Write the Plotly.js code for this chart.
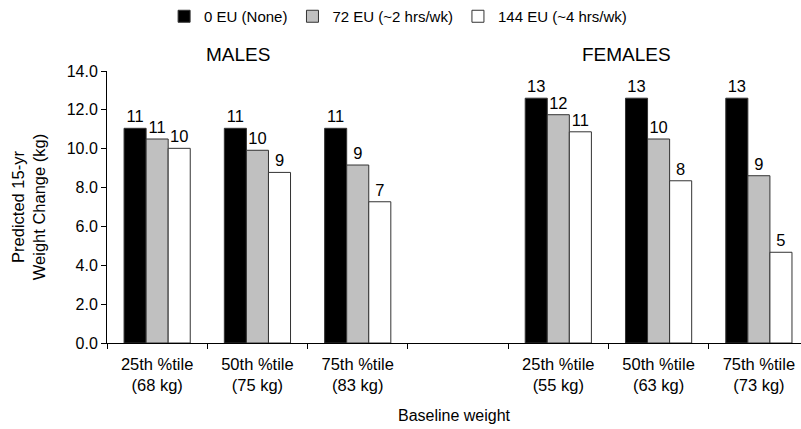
<!DOCTYPE html>
<html>
<head>
<meta charset="utf-8">
<script src="https://cdn.plot.ly/plotly-3.0.1.min.js"></script>
<style>html,body{margin:0;padding:0;background:#fff;}#chart{width:801px;height:429px;}</style>
</head>
<body>
<div id="chart"></div>
<script>
// Categories (index 3 is an empty spacer slot between males and females)
const categories = ["M25", "M50", "M75", "GAP", "F25", "F50", "F75"];
const tickLabels = ["25th %tile<br>(68 kg)", "50th %tile<br>(75 kg)", "75th %tile<br>(83 kg)", "",
                    "25th %tile<br>(55 kg)", "50th %tile<br>(63 kg)", "75th %tile<br>(73 kg)"];
const seriesNames = ["0 EU (None)", "72 EU (~2 hrs/wk)", "144 EU (~4 hrs/wk)"];
const eu0   = [11.05, 11.05, 11.05, null, 12.6, 12.6, 12.6];
const eu72  = [10.5, 9.92, 9.16, null, 11.75, 10.5, 8.61];
const eu144 = [10.02, 8.78, 7.27, null, 10.87, 8.35, 4.67];
const lab0   = ["11", "11", "11", "", "13", "13", "13"];
const lab72  = ["11", "10", "9", "", "12", "10", "9"];
const lab144 = ["10", "9", "7", "", "11", "8", "5"];
const colors = ["#000000", "#c0c0c0", "#ffffff"];

const font = "Liberation Sans, Arial, sans-serif";
function bar(name, y, text, color) {
  return {
    type: "bar", name: name, x: categories, y: y, text: text,
    textposition: "outside", cliponaxis: false,
    textfont: {family: font, size: 16.5, color: "#000"},
    marker: {color: color, line: {color: "#333", width: 1}},
    hoverinfo: "skip"
  };
}
const data = [
  bar(seriesNames[0], eu0, lab0, colors[0]),
  bar(seriesNames[1], eu72, lab72, colors[1]),
  bar(seriesNames[2], eu144, lab144, colors[2])
];

const layout = {
  width: 801, height: 429,
  margin: {l: 107, r: 0, t: 71, b: 86},
  paper_bgcolor: "#fff", plot_bgcolor: "#fff",
  font: {family: font, size: 16, color: "#000"},
  barmode: "group", bargap: 0.34, bargroupgap: 0,
  showlegend: true,
  legend: {orientation: "h", x: 0.497, xref: "container", xanchor: "center",
           y: 1.0, yref: "container", yanchor: "top",
           font: {family: font, size: 15, color: "#000"}, traceorder: "normal"},
  xaxis: {
    type: "category", categoryorder: "array", categoryarray: categories,
    tickvals: categories, ticktext: tickLabels,
    range: [-0.5, 6.42], showline: true, linecolor: "#000", linewidth: 1,
    ticks: "outside", tickson: "boundaries", ticklen: 5, tickcolor: "#000",
    ticklabelstandoff: 6,
    showgrid: false, zeroline: false,
    tickfont: {family: font, size: 16.5},
    title: {text: "Baseline weight", font: {family: font, size: 16}, standoff: 16}
  },
  yaxis: {
    range: [0, 14], dtick: 2, tick0: 0, tickformat: ".1f",
    showline: true, linecolor: "#000", linewidth: 1,
    ticks: "outside", ticklen: 5, tickcolor: "#000",
    showgrid: false, zeroline: false,
    tickfont: {family: font, size: 16},
    title: {text: "Predicted 15-yr<br>Weight Change (kg)", font: {family: font, size: 16.5}, standoff: 16}
  },
  annotations: [
    {text: "MALES", xref: "paper", yref: "paper", x: (238 - 107) / 694, y: 1.06, xanchor: "center", yanchor: "middle",
     showarrow: false, font: {family: font, size: 19}},
    {text: "FEMALES", xref: "paper", yref: "paper", x: (626 - 107) / 694, y: 1.06, xanchor: "center", yanchor: "middle",
     showarrow: false, font: {family: font, size: 19}}
  ]
};

Plotly.newPlot("chart", data, layout, {displayModeBar: false, staticPlot: true});
</script>
</body>
</html>
